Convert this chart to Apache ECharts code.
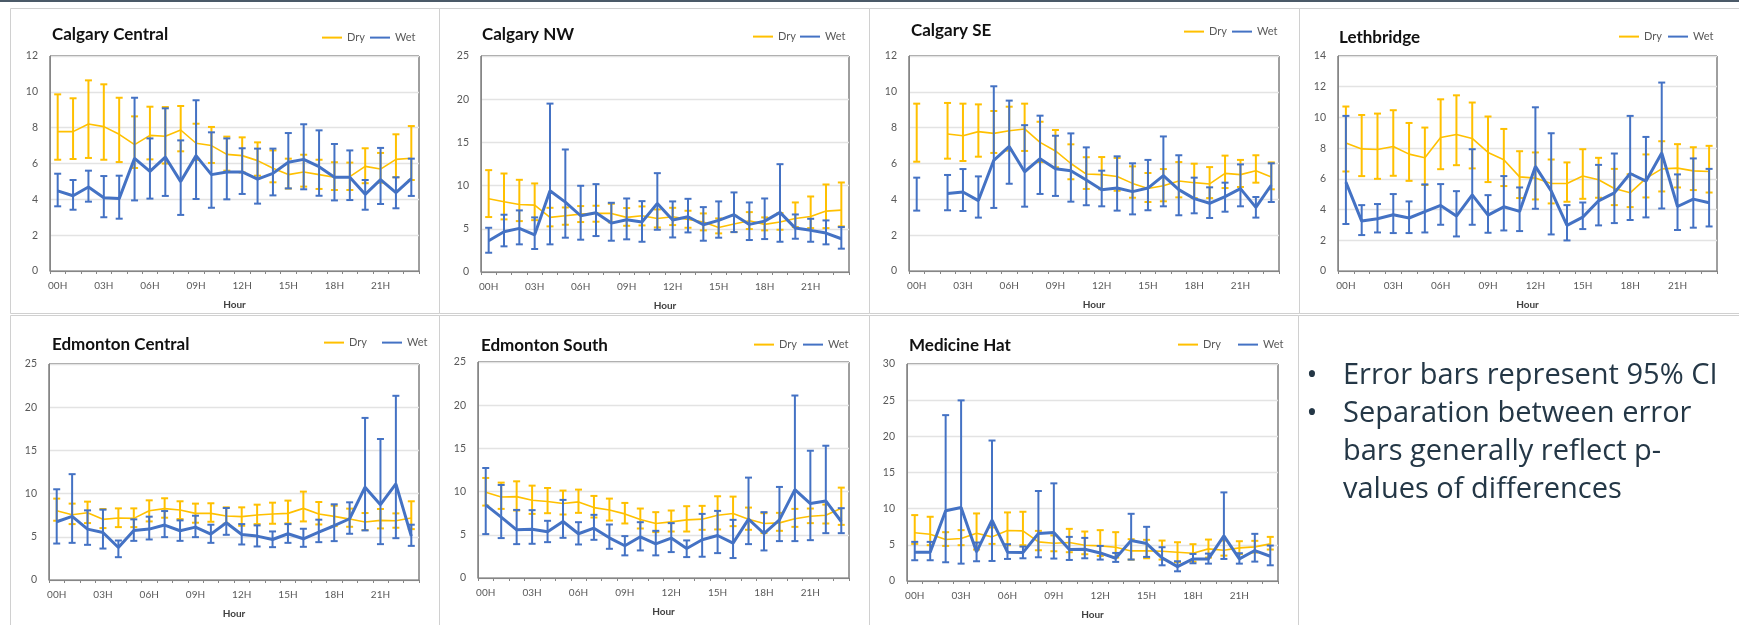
<!DOCTYPE html>
<html>
<head>
<meta charset="utf-8">
<script src="https://cdn.jsdelivr.net/npm/echarts@6/dist/echarts.min.js"></script>
<style>
  html, body { margin: 0; padding: 0; background: #ffffff; }
  #chart { width: 1739px; height: 625px; }
</style>
</head>
<body>
<div id="chart"></div>
<script>
// Hour-of-day categories shared by every station panel
const hours = ['00H','01H','02H','03H','04H','05H','06H','07H','08H','09H','10H','11H',
               '12H','13H','14H','15H','16H','17H','18H','19H','20H','21H','22H','23H'];

// Each entry: [mean, lower 95% CI, upper 95% CI]; null = no observations that hour
const calgaryCentralDry = [[7.78,6.21,9.86],[7.78,6.25,9.64],[8.2,6.31,10.64],[8.06,6.21,10.42],[7.63,6.08,9.67],[7.05,5.75,8.63],[7.57,6.23,9.17],[7.52,6.0,9.15],[7.87,6.68,9.21],[7.13,6.2,8.22],[7.0,6.03,8.04],[6.51,5.6,7.5],[6.44,5.5,7.46],[6.16,5.32,7.18],[5.73,4.95,6.73],[5.38,4.6,6.27],[5.53,4.71,6.49],[5.38,4.58,6.21],[5.23,4.52,6.07],[5.27,4.52,6.05],[5.84,4.9,6.85],[5.69,4.93,6.59],[6.23,5.23,7.63],[6.29,5.08,8.09]];
const calgaryCentralWet = [[4.47,3.61,5.43],[4.2,3.42,5.08],[4.69,3.87,5.6],[4.09,3.0,5.3],[4.04,2.92,5.32],[6.29,3.94,9.67],[5.56,4.04,7.4],[6.36,4.19,9.08],[4.99,3.13,7.29],[6.44,4.02,9.53],[5.38,3.53,7.74],[5.53,4.0,7.4],[5.53,4.3,6.85],[5.13,3.76,6.83],[5.45,4.22,6.83],[6.07,4.61,7.7],[6.23,4.56,8.19],[5.82,4.2,7.85],[5.23,3.94,7.09],[5.23,3.96,6.73],[4.28,3.42,5.08],[5.1,3.74,6.87],[4.37,3.5,5.23],[5.15,4.19,6.27]];

const calgaryNWDry = [[8.47,6.36,11.79],[8.13,6.09,11.4],[7.82,5.89,10.67],[7.74,6.0,10.25],[6.32,5.28,7.43],[6.51,5.47,7.47],[6.7,5.78,7.63],[6.78,5.82,7.67],[6.78,5.74,7.9],[6.32,5.35,7.4],[6.51,5.39,7.59],[6.2,5.16,7.24],[6.39,5.43,7.43],[6.09,5.12,7.09],[5.78,4.82,6.78],[5.16,4.47,6.2],[5.55,4.62,6.51],[5.93,4.97,6.93],[5.51,4.82,6.32],[5.78,4.89,6.82],[6.2,5.2,8.05],[6.43,5.08,8.74],[7.05,5.08,10.13],[7.16,5.28,10.36]];
const calgaryNWWet = [[3.62,2.23,5.12],[4.66,2.97,6.63],[5.05,3.2,7.13],[4.31,2.66,6.32],[9.4,3.2,19.49],[8.09,3.97,14.18],[6.51,3.74,9.98],[6.86,4.16,10.17],[5.66,3.62,8.01],[6.05,3.78,8.51],[5.78,3.5,8.2],[7.94,4.89,11.44],[6.01,4.0,8.17],[6.39,4.58,8.47],[5.47,3.62,7.51],[5.97,3.97,8.17],[6.63,4.62,9.21],[5.51,3.7,8.05],[5.89,3.81,8.51],[6.9,3.5,12.48],[5.08,3.85,6.66],[4.82,3.5,6.16],[4.51,3.2,5.97],[3.85,2.7,5.2]];

const calgarySEDry = [[7.7,6.1,9.34],null,[7.65,6.27,9.38],[7.55,6.14,9.34],[7.78,6.38,9.3],[7.68,6.59,8.93],[7.83,6.72,9.17],[7.93,6.7,9.34],[7.18,6.08,8.33],[6.7,5.79,7.87],[6.0,5.12,7.07],[5.41,4.58,6.35],[5.38,4.56,6.36],[5.27,4.48,6.31],[4.89,4.09,5.84],[4.6,3.85,5.47],[4.76,3.89,5.69],[5.02,4.11,6.08],[4.93,4.07,5.99],[4.86,4.07,5.8],[5.45,4.63,6.44],[5.38,4.69,6.2],[5.6,4.93,6.46],[5.25,4.56,6.06]];
const calgarySEWet = [[4.3,3.37,5.21],null,[4.32,3.39,5.36],[4.41,3.35,5.69],[3.93,2.98,5.28],[6.18,3.52,10.31],[6.95,4.87,9.51],[5.54,3.59,8.14],[6.27,4.3,8.67],[5.71,4.19,7.55],[5.6,3.87,7.68],[5.08,3.67,6.9],[4.54,3.61,5.6],[4.63,3.37,6.4],[4.43,3.16,6.01],[4.63,3.39,6.2],[5.32,3.61,7.51],[4.54,3.11,6.46],[4.04,3.22,5.21],[3.78,2.96,4.67],[4.15,3.31,4.93],[4.6,3.61,5.95],[3.55,2.98,4.13],[4.8,3.85,6.01]];

const lethbridgeDry = [[8.34,6.48,10.71],[7.95,6.18,10.16],[7.91,6.0,10.25],[8.11,6.2,10.47],[7.61,5.87,9.64],[7.37,5.6,9.34],[8.69,6.63,11.18],[8.89,6.89,11.44],[8.63,6.68,10.97],[7.72,5.79,10.06],[7.24,5.53,9.25],[6.13,4.75,7.8],[6.05,4.66,7.72],[5.7,4.4,7.26],[5.7,4.51,7.07],[6.18,4.7,7.93],[5.94,4.77,7.37],[5.37,4.29,6.65],[5.09,4.16,6.3],[6.03,4.79,7.59],[6.65,5.18,8.45],[6.7,5.44,8.26],[6.52,5.27,8.06],[6.48,5.11,8.15]];
const lethbridgeWet = [[5.79,3.06,10.1],[3.25,2.34,4.29],[3.4,2.51,4.36],[3.66,2.47,5.01],[3.45,2.47,4.53],[3.86,2.51,5.64],[4.27,3.01,5.66],[3.58,2.25,5.2],[4.96,3.01,7.93],[3.64,2.49,4.94],[4.18,2.64,6.18],[3.88,2.6,5.44],[6.81,4.05,10.66],[5.22,2.38,8.97],[2.97,1.99,4.29],[3.51,2.73,4.46],[4.57,2.97,6.91],[5.09,3.12,7.65],[6.35,3.32,10.1],[5.85,3.49,8.73],[7.69,4.07,12.27],[4.2,2.67,6.29],[4.68,2.82,7.33],[4.44,2.9,6.65]];

const edmontonCentralDry = [[8.02,6.86,9.42],[7.56,6.47,8.84],[7.79,6.59,9.07],[7.02,6.01,8.22],[7.17,6.12,8.29],[7.13,6.12,8.29],[8.02,6.78,9.22],[8.26,7.21,9.46],[8.1,7.05,9.11],[7.71,6.63,8.84],[7.71,6.74,8.88],[7.4,6.51,8.41],[7.33,6.28,8.41],[7.52,6.47,8.72],[7.64,6.51,8.95],[7.71,6.55,9.19],[8.29,6.78,10.23],[7.64,6.43,9.03],[7.36,6.24,8.6],[7.05,6.16,8.26],[6.71,5.78,7.75],[6.9,5.97,8.22],[6.86,6.05,7.71],[7.17,5.89,9.11]];
const edmontonCentralWet = [[6.74,4.22,10.5],[7.36,4.3,12.25],[5.89,4.07,8.06],[5.5,3.64,8.14],[3.76,2.64,4.57],[5.74,4.53,7.02],[5.89,4.69,7.33],[6.36,4.96,7.98],[5.7,4.53,6.9],[6.12,4.96,7.44],[5.31,4.3,6.4],[6.63,5.23,8.33],[5.27,4.11,6.47],[5.08,3.88,6.32],[4.69,3.8,5.62],[5.35,4.3,6.47],[4.77,3.84,5.93],[5.54,4.38,6.98],[6.28,4.5,8.76],[7.09,5.35,8.99],[10.74,5.74,18.76],[8.72,4.15,16.32],[11.12,4.84,21.32],[5.08,3.95,6.4]];

const edmontonSouthDry = [[9.92,8.38,11.58],[9.38,8.0,11.04],[9.42,7.81,11.19],[9.0,7.42,10.69],[8.85,7.5,10.42],[8.62,7.35,10.12],[8.81,7.54,10.23],[8.15,7.0,9.5],[7.88,6.65,9.19],[7.42,6.31,8.69],[6.77,5.73,8.04],[6.31,5.31,7.62],[6.5,5.38,7.81],[6.73,5.38,8.31],[6.81,5.58,8.35],[7.27,5.62,9.46],[7.46,6.0,9.42],[6.81,5.58,8.15],[6.31,5.2,7.5],[6.38,5.46,7.54],[6.85,5.92,8.0],[7.15,6.35,8.04],[7.27,6.31,8.5],[8.08,6.15,10.46]];
const edmontonSouthWet = [[8.46,5.08,12.73],[7.04,4.62,10.77],[5.58,3.92,7.88],[5.65,3.96,7.85],[5.35,4.15,6.62],[6.54,4.65,9.04],[5.12,3.88,6.46],[5.77,4.42,7.31],[4.65,3.38,6.19],[3.73,2.62,4.85],[4.77,3.19,6.46],[3.96,2.62,5.46],[4.62,3.0,6.35],[3.42,2.42,4.35],[4.42,2.46,7.42],[4.92,2.88,7.77],[4.04,2.31,6.73],[6.81,3.92,11.62],[5.15,3.19,7.62],[6.73,4.27,10.54],[10.23,4.27,21.12],[8.62,4.38,14.73],[8.92,5.19,15.31],[6.54,5.19,8.08]];

const medicineHatDry = [[6.66,5.13,9.11],[6.47,4.95,8.88],[5.73,4.85,6.75],[5.87,4.95,7.03],[6.61,4.35,9.34],[6.1,5.13,7.4],[6.98,4.95,9.48],[6.93,4.95,9.57],[5.41,4.25,6.93],[5.22,4.11,6.3],[5.32,3.98,7.21],[4.95,3.7,6.84],[4.85,3.47,7.03],[4.67,3.24,6.75],[4.16,2.96,5.78],[4.16,3.14,5.69],[4.11,2.96,5.59],[3.98,2.59,5.36],[3.84,2.68,5.09],[4.44,3.24,5.73],[4.25,3.51,5.6],[4.58,3.74,5.5],[4.72,3.93,5.55],[5.13,4.35,6.1]];
const medicineHatWet = [[3.98,2.87,5.41],[3.98,2.87,5.41],[9.71,2.59,22.93],[10.17,2.4,24.97],[4.02,2.73,5.32],[8.41,2.77,19.42],[3.98,3.05,5.09],[3.93,3.14,4.76],[6.56,3.28,12.44],[6.7,3.1,13.5],[4.35,2.91,6.1],[4.39,3.14,5.96],[3.88,2.96,4.85],[3.14,2.64,3.88],[5.59,2.96,9.29],[5.18,3.33,7.49],[3.19,2.17,4.67],[1.99,1.34,2.73],[3.05,2.45,3.74],[3.05,2.4,3.79],[6.24,3.05,12.25],[3.05,2.4,3.84],[4.21,2.68,6.52],[3.42,2.17,4.9]];

const notes = [
  ['Error bars represent 95% CI'],
  ['Separation between error', 'bars generally reflect p-', 'values of differences']
];

// Panel layout: plot rectangle, title anchor, legend anchors, y scale
const panels = [
  { name: 'Calgary Central',  dry: calgaryCentralDry,  wet: calgaryCentralWet,  yMax: 12, yStep: 2,
    grid: [50, 56, 369, 215],  title: [52, 35],  legend: [321, 369, 39] },
  { name: 'Calgary NW',       dry: calgaryNWDry,       wet: calgaryNWWet,       yMax: 25, yStep: 5,
    grid: [481, 56, 368, 216], title: [482, 35], legend: [752, 799, 38] },
  { name: 'Calgary SE',       dry: calgarySEDry,       wet: calgarySEWet,       yMax: 12, yStep: 2,
    grid: [909, 56, 370, 215], title: [911, 31], legend: [1183, 1231, 33] },
  { name: 'Lethbridge',       dry: lethbridgeDry,      wet: lethbridgeWet,      yMax: 14, yStep: 2,
    grid: [1338, 56, 379, 215], title: [1339, 38], legend: [1618, 1667, 38] },
  { name: 'Edmonton Central', dry: edmontonCentralDry, wet: edmontonCentralWet, yMax: 25, yStep: 5,
    grid: [49, 364, 370, 216], title: [52, 345], legend: [323, 381, 344] },
  { name: 'Edmonton South',   dry: edmontonSouthDry,   wet: edmontonSouthWet,   yMax: 25, yStep: 5,
    grid: [478, 362, 371, 216], title: [481, 346], legend: [753, 802, 346] },
  { name: 'Medicine Hat',     dry: medicineHatDry,     wet: medicineHatWet,     yMax: 30, yStep: 5,
    grid: [907, 364, 371, 217], title: [909, 346], legend: [1177, 1237, 346] }
];

const DRY = '#FFC000';
const WET = '#4472C4';
const FONT = 'Lato';

function errorBars(color, lineWidth) {
  return function (params, api) {
    const x = api.value(0);
    const top = api.coord([x, api.value(2)]);
    const bottom = api.coord([x, api.value(1)]);
    const cap = 3.5;
    const style = { stroke: color, lineWidth: lineWidth, fill: null };
    return {
      type: 'group',
      children: [
        { type: 'line', shape: { x1: top[0], y1: top[1], x2: bottom[0], y2: bottom[1] }, style: style },
        { type: 'line', shape: { x1: top[0] - cap, y1: top[1], x2: top[0] + cap, y2: top[1] }, style: style },
        { type: 'line', shape: { x1: bottom[0] - cap, y1: bottom[1], x2: bottom[0] + cap, y2: bottom[1] }, style: style }
      ]
    };
  };
}

function barData(rows) {
  const out = [];
  rows.forEach(function (r, i) { if (r) out.push([i, r[1], r[2]]); });
  return out;
}
function meanData(rows) {
  return rows.map(function (r) { return r ? r[0] : null; });
}

const grids = [], xAxes = [], yAxes = [], titles = [], legends = [], series = [];

panels.forEach(function (p, i) {
  grids.push({
    left: p.grid[0], top: p.grid[1], width: p.grid[2], height: p.grid[3],
    show: true, borderColor: '#3f3f3f', borderWidth: 1, backgroundColor: 'transparent'
  });
  xAxes.push({
    type: 'category', gridIndex: i, data: hours, boundaryGap: true,
    name: 'Hour', nameLocation: 'middle', nameGap: 29,
    nameTextStyle: { fontFamily: FONT, fontWeight: 'bold', fontSize: 10, color: '#404040' },
    axisLine: { show: true, lineStyle: { color: '#868686', width: 1 } },
    axisTick: { show: true, interval: 0, length: 3, lineStyle: { color: '#868686' } },
    axisLabel: { interval: 2, margin: 10, fontFamily: FONT, fontSize: 10, color: '#595959' },
    splitLine: { show: false }
  });
  yAxes.push({
    type: 'value', gridIndex: i, min: 0, max: p.yMax, interval: p.yStep,
    axisLine: { show: true, lineStyle: { color: '#868686', width: 1 } },
    axisTick: { show: false },
    axisLabel: { margin: 12, fontFamily: FONT, fontSize: 10.5, color: '#595959' },
    splitLine: { show: true, lineStyle: { color: '#e3e3e3', width: 1.3 } }
  });
  titles.push({
    text: p.name, left: p.title[0], top: p.title[1] - 11, padding: 0,
    textStyle: { fontFamily: FONT, fontWeight: 'bold', fontSize: 17, color: '#111111', lineHeight: 22 }
  });
  // plain line keys: the marker dot of the default line icon is hidden
  const legendCommon = {
    top: p.legend[2] - 7, padding: 0, itemWidth: 20, itemHeight: 14, selectedMode: false,
    itemStyle: { opacity: 0 },
    textStyle: { fontFamily: FONT, fontSize: 11, color: '#595959' }
  };
  legends.push(Object.assign({ left: p.legend[0], data: ['Dry'] }, legendCommon));
  legends.push(Object.assign({ left: p.legend[1], data: ['Wet'] }, legendCommon));

  series.push({
    type: 'custom', name: 'Dry CI', xAxisIndex: i, yAxisIndex: i, z: 1,
    renderItem: errorBars(DRY, 2), data: barData(p.dry),
    encode: { x: 0, y: [1, 2] }, silent: true
  });
  series.push({
    type: 'line', name: 'Dry', xAxisIndex: i, yAxisIndex: i, z: 2,
    data: meanData(p.dry), symbol: 'none', connectNulls: false,
    lineStyle: { color: DRY, width: 1.6 }, itemStyle: { color: DRY, opacity: 0 }, silent: true
  });
  series.push({
    type: 'custom', name: 'Wet CI', xAxisIndex: i, yAxisIndex: i, z: 3,
    renderItem: errorBars(WET, 2), data: barData(p.wet),
    encode: { x: 0, y: [1, 2] }, silent: true
  });
  series.push({
    type: 'line', name: 'Wet', xAxisIndex: i, yAxisIndex: i, z: 4,
    data: meanData(p.wet), symbol: 'none', connectNulls: false,
    lineStyle: { color: WET, width: 3 }, itemStyle: { color: WET, opacity: 0 }, silent: true
  });
});

// Frames around panels, page rule and the notes text
const graphics = [
  { type: 'rect', shape: { x: 0, y: 0, width: 1739, height: 2 }, style: { fill: '#4b5a68' }, silent: true }
];
[[10, 8, 429, 305], [439, 8, 430, 305], [869, 8, 430, 305], [1299, 8, 440, 305],
 [10, 315, 429, 320], [439, 315, 430, 320], [869, 315, 429, 320], [1298, 315, 450, 320]]
  .forEach(function (b) {
    graphics.push({ type: 'rect', shape: { x: b[0] + 0.5, y: b[1] + 0.5, width: b[2], height: b[3] },
      style: { fill: null, stroke: '#d0d0d0', lineWidth: 1 }, silent: true });
  });

const noteStyle = { fontFamily: 'Open Sans', fontSize: 29, fill: '#243746' };
let lineY = 376;
notes.forEach(function (item) {
  graphics.push({ type: 'text', x: 1312, y: lineY, silent: true,
    style: Object.assign({ text: '•', textVerticalAlign: 'middle', textAlign: 'center' }, noteStyle) });
  item.forEach(function (line) {
    graphics.push({ type: 'text', x: 1343, y: lineY, silent: true,
      style: Object.assign({ text: line, textVerticalAlign: 'middle' }, noteStyle) });
    lineY += 38;
  });
});

const chart = echarts.init(document.getElementById('chart'), null, { renderer: 'canvas' });
chart.setOption({
  animation: false,
  backgroundColor: '#ffffff',
  title: titles,
  legend: legends,
  grid: grids,
  xAxis: xAxes,
  yAxis: yAxes,
  series: series,
  graphic: graphics
});
</script>
</body>
</html>
